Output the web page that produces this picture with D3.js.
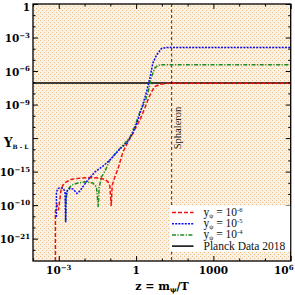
<!DOCTYPE html>
<html>
<head>
<meta charset="utf-8">
<script src="https://cdn.jsdelivr.net/npm/d3@7"></script>
<style>
html, body { margin: 0; padding: 0; background: #fff; }
svg { display: block; }
</style>
</head>
<body>
<div id="chart"></div>
<script>
// [z, Y_B-L]
const redCurve = [
  [7.4e-4, 1e-23], [7.4e-4, 2.4e-19], [8.5e-4, 1.0e-18], [9.7e-4, 3.6e-19], [1.06e-3, 1.5e-18],
  [1.22e-3, 2.2e-17], [1.46e-3, 6.3e-17], [1.9e-3, 1.15e-16], [3.25e-3, 2.1e-16], [6.6e-3, 2.6e-16],
  [1.6e-2, 2.9e-16], [3.95e-2, 2.6e-16], [6.2e-2, 1.95e-16], [8.1e-2, 1.23e-16], [9.6e-2, 5.1e-17],
  [0.108, 8.3e-19], [0.119, 6.3e-17], [0.151, 3.5e-16], [0.197, 1.7e-15], [0.308, 5.6e-14],
  [0.481, 4.4e-13], [0.75, 2.8e-12], [1.40, 4.1e-11], [2.19, 4.9e-10], [2.87, 2.6e-9],
  [3.99, 1.4e-8], [5.36, 4.0e-8], [8.36, 6.5e-8], [15.2, 7.9e-8], [1e6, 7.9e-8]
];
const blueCurve = [
  [8.1e-4, 8.5e-20], [8.1e-4, 1.5e-17], [9.3e-4, 3.0e-17], [1.11e-3, 3.6e-17], [1.49e-3, 3.2e-17],
  [1.74e-3, 1.6e-17], [1.85e-3, 3.0e-20], [1.95e-3, 1.5e-17], [2.7e-3, 3.2e-17], [3.65e-3, 2.7e-17],
  [5.1e-3, 1.1e-17], [6.6e-3, 1.8e-17], [8.7e-3, 4.6e-17], [1.35e-2, 1.75e-16], [2.5e-2, 9.1e-16],
  [5.2e-2, 3.1e-15], [9.6e-2, 1.08e-14], [0.235, 1.05e-13], [0.43, 3.6e-13], [0.75, 2.8e-12],
  [1.17, 4.1e-11], [1.84, 1.1e-9], [2.55, 1.4e-8], [3.43, 2.4e-7], [4.48, 5.2e-6],
  [6.23, 2.7e-5], [9.7, 1.04e-4], [15.2, 1.3e-4], [1e6, 1.3e-4]
];
const greenCurve = [
  [1.85e-3, 3.7e-20], [1.9e-3, 2.8e-18], [2.17e-3, 2.2e-17], [3.16e-3, 6.3e-17], [5.5e-3, 9.5e-17],
  [1.04e-2, 1.23e-16], [2.1e-2, 9.5e-17], [2.9e-2, 4.4e-17], [3.4e-2, 6.7e-19], [3.7e-2, 4.1e-17],
  [4.6e-2, 3.5e-16], [6.2e-2, 1.1e-15], [9.6e-2, 1.08e-14], [0.175, 5.6e-14], [0.37, 3.6e-13],
  [0.575, 1.2e-12], [0.90, 1.2e-11], [1.40, 2.1e-10], [2.19, 1.7e-9], [2.87, 1.07e-8],
  [3.99, 3.1e-7], [5.36, 1.9e-6], [7.0, 3.2e-6], [10.9, 3.7e-6], [1e6, 3.7e-6]
];
const planckValue = 8.5e-8;
const sphaleronZ = 24;

const xDomain = [1e-4, 1e6];
const yDomain = [1e-23, 1];
const xMajor = [1e-3, 1, 1e3, 1e6];
const xLabels = [["10", "\u22123"], ["1", ""], ["1000", ""], ["10", "6"]];
const xMinor = [1e-4, 1e-2, 1e-1, 10, 100, 1e4, 1e5];
const yMajor = [1, 1e-3, 1e-6, 1e-9, 1e-12, 1e-15, 1e-18, 1e-21];
const yLabels = [["1", ""], ["10", "\u22123"], ["10", "\u22126"], ["10", "\u22129"], ["", ""],
                 ["10", "\u221215"], ["10", "\u221210"], ["10", "\u221221"]];
const yMinor = [1e-1, 1e-2, 1e-4, 1e-5, 1e-7, 1e-8, 1e-10, 1e-11, 1e-13, 1e-14,
                1e-16, 1e-17, 1e-19, 1e-20, 1e-22];

const legendItems = [
  { exp: "-6", color: "#f01010", dash: "4,2" },
  { exp: "-5", color: "#0a0aff", dash: "2,1.2" },
  { exp: "-4", color: "#1f8a1f", dash: "4,1.5,1.2,1.5" },
  { label: "Planck Data 2018", color: "#000", dash: null }
];

const width = 295, height = 295;
const margin = { top: 4, right: 4.3, bottom: 34, left: 33 };
const plot = {
  left: margin.left, right: width - margin.right,
  top: margin.top, bottom: height - margin.bottom
};

const svg = d3.select('#chart').append('svg')
  .attr('width', width).attr('height', height);

const x = d3.scaleLog().domain(xDomain).range([plot.left, plot.right]);
const y = d3.scaleLog().domain(yDomain).range([plot.bottom, plot.top]);

const defs = svg.append('defs');
const pat = defs.append('pattern').attr('id', 'dots')
  .attr('width', 4).attr('height', 4).attr('patternUnits', 'userSpaceOnUse');
pat.append('rect').attr('width', 4).attr('height', 4).attr('fill', '#f9f1e4');
pat.append('rect').attr('x', 0).attr('y', 0).attr('width', 1).attr('height', 1).attr('fill', '#edc08a');
pat.append('rect').attr('x', 2).attr('y', 2).attr('width', 1).attr('height', 1).attr('fill', '#edc08a');
defs.append('clipPath').attr('id', 'clip').append('rect')
  .attr('x', plot.left).attr('y', plot.top)
  .attr('width', plot.right - plot.left).attr('height', plot.bottom - plot.top);

svg.append('rect')
  .attr('x', plot.left).attr('y', plot.top)
  .attr('width', plot.right - plot.left).attr('height', plot.bottom - plot.top)
  .attr('fill', 'url(#dots)');

const g = svg.append('g').attr('clip-path', 'url(#clip)');

// sphaleron line
g.append('line')
  .attr('x1', x(sphaleronZ)).attr('x2', x(sphaleronZ))
  .attr('y1', plot.top).attr('y2', plot.bottom)
  .attr('stroke', '#333').attr('stroke-width', 1).attr('stroke-dasharray', '3,2.5');

svg.append('text')
  .attr('transform', `translate(${x(sphaleronZ) + 9.5},128) rotate(-90)`)
  .attr('text-anchor', 'middle')
  .style('font-family', '"Liberation Serif", serif').style('font-size', '10.5px')
  .attr('fill', '#222')
  .text('Sphaleron');

// planck line
g.append('line')
  .attr('x1', plot.left).attr('x2', plot.right)
  .attr('y1', y(planckValue)).attr('y2', y(planckValue))
  .attr('stroke', '#000').attr('stroke-width', 1.5);

const line = d3.line().x((d) => x(d[0])).y((d) => y(d[1]));
const series = [
  { data: redCurve, style: legendItems[0] },
  { data: greenCurve, style: legendItems[2] },
  { data: blueCurve, style: legendItems[1] }
];
series.forEach((s) => {
  g.append('path').datum(s.data)
    .attr('d', line)
    .attr('fill', 'none')
    .attr('stroke', s.style.color)
    .attr('stroke-width', 1.5)
    .attr('stroke-dasharray', s.style.dash);
});

// axes, ticks inward on all four sides
const axes = svg.append('g');
function drawAxis(axisFn, scale, vals, size, tr) {
  axes.append('g').attr('transform', tr)
    .call(axisFn(scale).tickValues(vals).tickSize(size).tickFormat(''))
    .call((a) => a.select('.domain').remove())
    .call((a) => a.selectAll('line').attr('stroke', '#000').attr('stroke-width', 1));
}
drawAxis(d3.axisBottom, x, xMajor, -5, `translate(0,${plot.bottom})`);
drawAxis(d3.axisBottom, x, xMinor, -2.5, `translate(0,${plot.bottom})`);
drawAxis(d3.axisTop, x, xMajor, -5, `translate(0,${plot.top})`);
drawAxis(d3.axisTop, x, xMinor, -2.5, `translate(0,${plot.top})`);
drawAxis(d3.axisLeft, y, yMajor, -5, `translate(${plot.left},0)`);
drawAxis(d3.axisLeft, y, yMinor, -2.5, `translate(${plot.left},0)`);
drawAxis(d3.axisRight, y, yMajor, -5, `translate(${plot.right},0)`);
drawAxis(d3.axisRight, y, yMinor, -2.5, `translate(${plot.right},0)`);

svg.append('rect')
  .attr('x', plot.left).attr('y', plot.top)
  .attr('width', plot.right - plot.left).attr('height', plot.bottom - plot.top)
  .attr('fill', 'none').attr('stroke', '#000').attr('stroke-width', 1.3);

const tickFont = (sel) => sel.style('font-family', '"DejaVu Serif", serif')
  .style('font-weight', 'bold').attr('fill', '#000');

xMajor.forEach((v, i) => {
  const last = i === xMajor.length - 1;
  const t = svg.append('text').attr('x', last ? width - 1.5 : x(v)).attr('y', plot.bottom + 13)
    .attr('text-anchor', last ? 'end' : 'middle').call(tickFont).style('font-size', '10.5px');
  t.append('tspan').text(xLabels[i][0]);
  if (xLabels[i][1]) t.append('tspan').attr('dy', -4.5).style('font-size', '7px').text(xLabels[i][1]);
});
yMajor.forEach((v, i) => {
  if (!yLabels[i][0]) return;
  const t = svg.append('text').attr('x', plot.left - 3).attr('y', Math.max(y(v) + 4.5, 11))
    .attr('text-anchor', 'end').call(tickFont).style('font-size', '10.5px');
  t.append('tspan').text(yLabels[i][0]);
  if (yLabels[i][1]) t.append('tspan').attr('dy', -4.5).style('font-size', '7px').text(yLabels[i][1]);
});

// axis titles
const yt = svg.append('text').attr('x', 4).attr('y', 147).call(tickFont).style('font-size', '12px');
yt.append('tspan').text('Y');
yt.append('tspan').attr('dy', 2).style('font-size', '6px').text('B - L');

const xt = svg.append('text').attr('x', 162).attr('y', 290).attr('text-anchor', 'middle')
  .call(tickFont).style('font-size', '11px');
xt.append('tspan').text('z = m');
xt.append('tspan').attr('dy', 2).style('font-size', '7px').text('\u03c8');
xt.append('tspan').attr('dy', -2).text('/T');

// legend
const lg = svg.append('g');
lg.append('rect').attr('x', 170).attr('y', 205.5).attr('width', plot.right - 170.6).attr('height', 46)
  .attr('fill', '#fff');
legendItems.forEach((d, i) => {
  const ly = 212.5 + i * 11.2;
  lg.append('line').attr('x1', 172).attr('x2', 193.5).attr('y1', ly).attr('y2', ly)
    .attr('stroke', d.color).attr('stroke-width', 1.5).attr('stroke-dasharray', d.dash);
  const t = lg.append('text').attr('x', 203.5).attr('y', ly + 3.5)
    .style('font-family', '"Liberation Serif", serif').style('font-size', '11.5px').attr('fill', '#111');
  if (d.label) {
    t.text(d.label);
  } else {
    t.append('tspan').text('y');
    t.append('tspan').attr('dy', 1.5).style('font-size', '6.5px').text('\u03c8');
    t.append('tspan').attr('dy', -1.5).text(' = 10');
    t.append('tspan').attr('dy', -4).style('font-size', '6.5px').text(d.exp);
  }
});
</script>
</body>
</html>
